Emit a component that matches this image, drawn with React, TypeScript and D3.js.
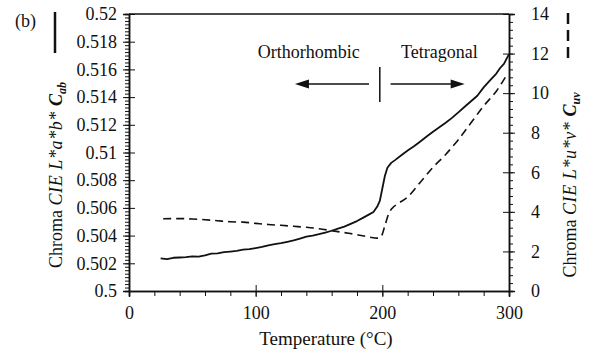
import React, { useEffect, useRef } from 'react';
import * as d3 from 'd3';

// solid curve, left axis (CIE L*a*b* chroma)
const labTemp = [25, 30, 35, 40, 45, 50, 55, 60, 65, 70, 75, 80, 85, 90, 95, 100, 105, 110, 115, 120, 125, 130, 135, 140, 145, 150, 155, 160, 165, 170, 175, 180, 185, 190, 193, 196, 198, 200, 202, 204, 207, 210, 215, 220, 225, 230, 235, 240, 245, 250, 255, 260, 265, 270, 275, 280, 285, 290, 293, 296, 300];
const labChroma = [0.50235, 0.5023, 0.5024, 0.50242, 0.50245, 0.5025, 0.50248, 0.50258, 0.5027, 0.50272, 0.5028, 0.50285, 0.5029, 0.50298, 0.50302, 0.5031, 0.50318, 0.5033, 0.50338, 0.50345, 0.50355, 0.50365, 0.50378, 0.50392, 0.504, 0.5041, 0.50422, 0.50435, 0.5045, 0.50465, 0.50485, 0.50505, 0.5053, 0.50555, 0.5057, 0.5061, 0.5065, 0.5074, 0.5083, 0.5089, 0.50925, 0.50945, 0.5098, 0.51015, 0.51045, 0.5108, 0.51115, 0.5115, 0.51182, 0.51215, 0.5125, 0.5129, 0.5133, 0.5137, 0.5141, 0.5147, 0.5152, 0.5157, 0.5161, 0.5164, 0.5171];

// dashed curve, right axis (CIE L*u*v* chroma)
const luvTemp = [27, 40, 50, 60, 70, 80, 90, 100, 110, 120, 130, 140, 150, 160, 170, 180, 190, 196, 199, 202, 205, 208, 212, 220, 230, 240, 250, 260, 270, 280, 290, 298];
const luvChroma = [3.65, 3.66, 3.64, 3.6, 3.55, 3.5, 3.48, 3.42, 3.36, 3.32, 3.27, 3.22, 3.15, 3.05, 2.95, 2.85, 2.72, 2.67, 2.75, 3.3, 3.9, 4.2, 4.4, 4.75, 5.5, 6.25, 6.9, 7.65, 8.5, 9.35, 10.1, 10.9];

const xMajor = [0, 100, 200, 300];
const leftMajor = [0.5, 0.502, 0.504, 0.506, 0.508, 0.51, 0.512, 0.514, 0.516, 0.518, 0.52];
const rightMajor = [0, 2, 4, 6, 8, 10, 12, 14];

const W = 589;
const H = 355;
const FONT = '"Liberation Serif", serif';
const FS = 18;

const App = () => {
  const svgRef = useRef<SVGSVGElement>(null);

  useEffect(() => {
    const svg = d3.select(svgRef.current);
    svg.selectAll('*').remove();

    const margin = { top: 14, right: 80, bottom: 64, left: 129 };
    const width = W - margin.left - margin.right;
    const height = H - margin.top - margin.bottom;

    const g = svg.append('g').attr('transform', `translate(${margin.left},${margin.top})`);

    const x = d3.scaleLinear().domain([0, 300]).range([0, width]);
    const yL = d3.scaleLinear().domain([0.5, 0.52]).range([height, 0]);
    const yR = d3.scaleLinear().domain([0, 14]).range([height, 0]);

    const stroke = '#111';

    // frame top
    g.append('line').attr('x1', 0).attr('x2', width).attr('y1', 0).attr('y2', 0)
      .attr('stroke', stroke).attr('stroke-width', 1.5);

    const styleAxis = (sel: any) => {
      sel.select('.domain').attr('stroke', stroke).attr('stroke-width', 1.5);
      sel.selectAll('.tick line').attr('stroke', stroke).attr('stroke-width', 1);
      sel.selectAll('.tick text').attr('font-family', FONT).attr('font-size', FS).attr('fill', '#111');
    };

    // x axis minor ticks (every 20)
    g.append('g').attr('transform', `translate(0,${height})`)
      .call(d3.axisBottom(x).tickValues(d3.range(0, 301, 20)).tickSize(5).tickFormat(() => ''))
      .call(styleAxis);
    // x axis major ticks crossing
    const xa = g.append('g').attr('transform', `translate(0,${height})`)
      .call(d3.axisBottom(x).tickValues(xMajor).tickSize(6).tickPadding(9).tickFormat(d3.format('d')))
      .call(styleAxis);
    xa.selectAll('.tick line').attr('y1', -6);

    // left axis minor ticks (every 0.00025)
    g.append('g')
      .call(d3.axisLeft(yL).tickValues(d3.range(0, 81).map((i) => 0.5 + i * 0.00025)).tickSize(4).tickFormat(() => ''))
      .call(styleAxis);
    const la = g.append('g')
      .call(d3.axisLeft(yL).tickValues(leftMajor).tickSize(6).tickPadding(6).tickFormat((d: any) => String(+(+d).toFixed(3))))
      .call(styleAxis);
    la.selectAll('.tick line').attr('x2', 6).attr('x1', -6);

    // right axis minor ticks (every 0.4)
    g.append('g').attr('transform', `translate(${width},0)`)
      .call(d3.axisRight(yR).tickValues(d3.range(0, 36).map((i) => i * 0.4)).tickSize(4).tickFormat(() => ''))
      .call(styleAxis);
    const ra = g.append('g').attr('transform', `translate(${width},0)`)
      .call(d3.axisRight(yR).tickValues(rightMajor).tickSize(6).tickPadding(16).tickFormat(d3.format('d')))
      .call(styleAxis);
    ra.selectAll('.tick line').attr('x1', -6);

    // curves
    const labLine = d3.line<number>().x((_, i) => x(labTemp[i])).y((d) => yL(d)).curve(d3.curveLinear);
    g.append('path').datum(labChroma).attr('d', labLine).attr('fill', 'none')
      .attr('stroke', stroke).attr('stroke-width', 1.8).attr('stroke-linejoin', 'round');

    const luvLine = d3.line<number>().x((_, i) => x(luvTemp[i])).y((d) => yR(d)).curve(d3.curveMonotoneX);
    g.append('path').datum(luvChroma).attr('d', luvLine).attr('fill', 'none')
      .attr('stroke', stroke).attr('stroke-width', 1.6).attr('stroke-dasharray', '8,5');

    // phase annotation
    const arrowY = yL(0.51495);
    g.append('line').attr('x1', x(198)).attr('x2', x(198)).attr('y1', yL(0.51617)).attr('y2', yL(0.51365))
      .attr('stroke', stroke).attr('stroke-width', 1.5);
    const arrow = (from: number, to: number) => {
      const dir = Math.sign(to - from);
      g.append('line').attr('x1', x(from)).attr('x2', x(to) - dir * 12).attr('y1', arrowY).attr('y2', arrowY)
        .attr('stroke', stroke).attr('stroke-width', 1.5);
      const tip = x(to);
      g.append('path')
        .attr('d', `M${tip},${arrowY} L${tip - dir * 14},${arrowY - 4.5} L${tip - dir * 14},${arrowY + 4.5} Z`)
        .attr('fill', stroke);
    };
    arrow(189.5, 131);
    arrow(206.5, 265);
    g.append('text').attr('x', x(142)).attr('y', yL(0.51682)).attr('text-anchor', 'middle')
      .attr('font-family', FONT).attr('font-size', FS).attr('fill', '#111').text('Orthorhombic');
    g.append('text').attr('x', x(245)).attr('y', yL(0.51682)).attr('text-anchor', 'middle')
      .attr('font-family', FONT).attr('font-size', FS).attr('fill', '#111').text('Tetragonal');

    // x label
    svg.append('text').attr('x', 326).attr('y', 345).attr('text-anchor', 'middle')
      .attr('font-family', FONT).attr('font-size', FS + 1).attr('fill', '#111').text('Temperature (\u00B0C)');

    // (b)
    svg.append('text').attr('x', 15).attr('y', 27).attr('font-family', FONT).attr('font-size', FS)
      .attr('fill', '#111').text('(b)');

    // rotated axis titles
    const title = (cx: number, cy: number, uv: boolean) => {
      const t = svg.append('text').attr('transform', `translate(${cx},${cy}) rotate(-90)`)
        .attr('text-anchor', 'middle').attr('font-family', FONT).attr('font-size', FS).attr('fill', '#111');
      t.append('tspan').text('Chroma ');
      t.append('tspan').attr('font-style', 'italic').attr('letter-spacing', 0.6).text(uv ? 'CIE L*u*v* ' : 'CIE L*a*b* ');
      t.append('tspan').attr('font-style', 'italic').attr('font-weight', 'bold').text('C');
      t.append('tspan').attr('font-style', 'italic').attr('font-weight', 'bold').attr('font-size', 12)
        .attr('dy', 4).text(uv ? 'uv' : 'ab');
    };
    title(62, 175, false);
    title(576, 185, true);

    // legend markers next to titles
    svg.append('line').attr('x1', 55).attr('x2', 55).attr('y1', 12).attr('y2', 53)
      .attr('stroke', stroke).attr('stroke-width', 2.5);
    svg.append('line').attr('x1', 568).attr('x2', 568).attr('y1', 13).attr('y2', 64)
      .attr('stroke', stroke).attr('stroke-width', 2.5).attr('stroke-dasharray', '11,6');
  }, []);

  return (
    <svg ref={svgRef} width={W} height={H}
      style={{ position: 'absolute', left: 0, top: 0, background: '#fff' }} />
  );
};

export default App;
